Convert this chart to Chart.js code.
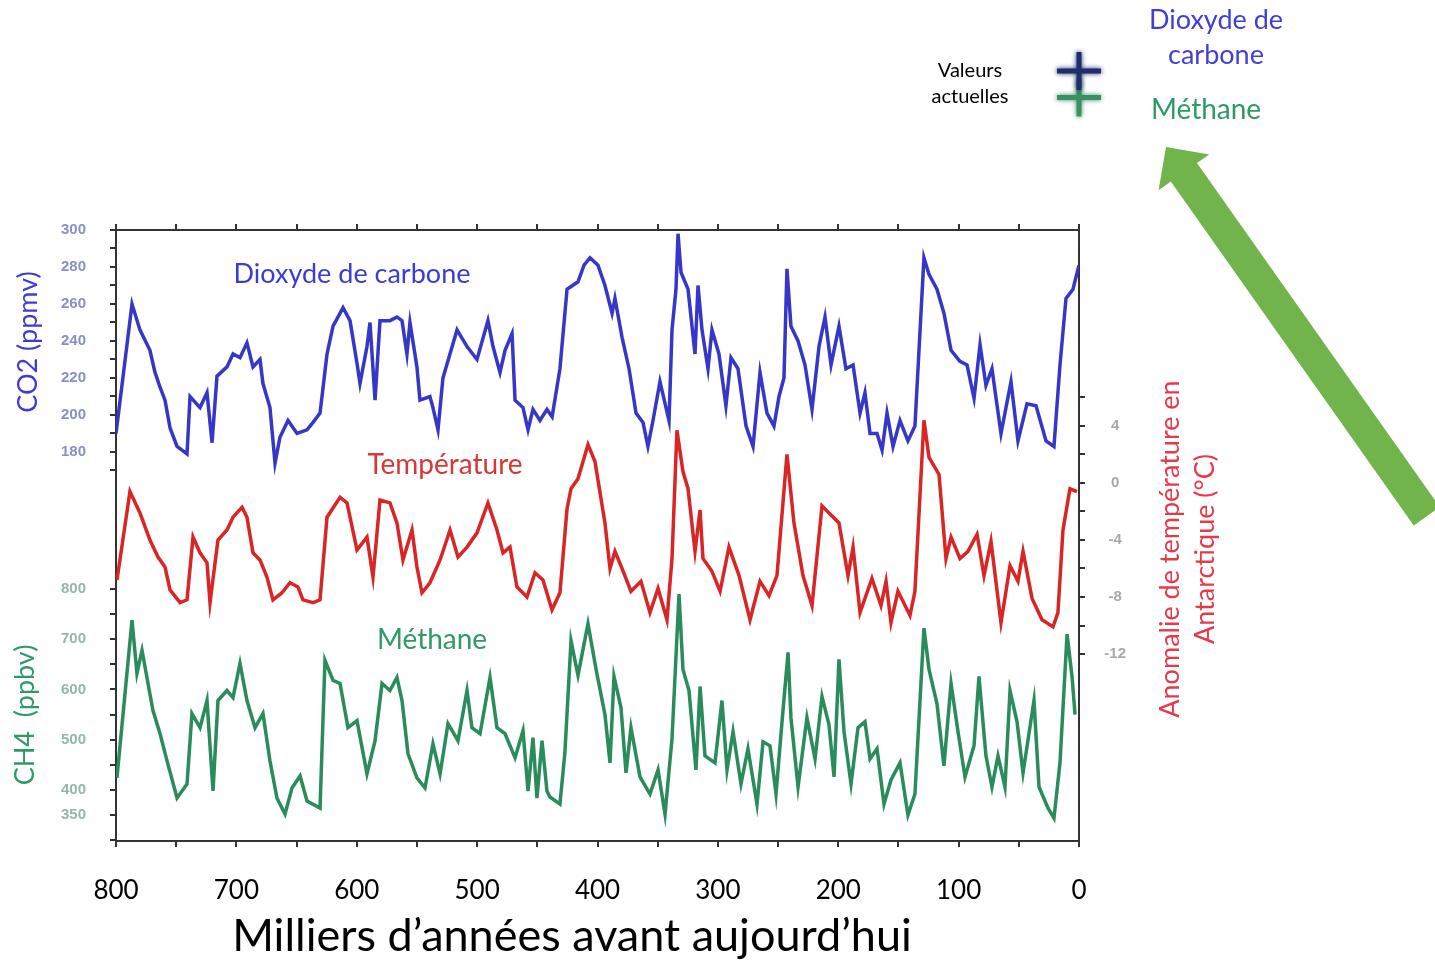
<!DOCTYPE html>
<html>
<head>
<meta charset="utf-8">
<title>CO2, température et méthane</title>
<script src="https://cdn.jsdelivr.net/npm/chart.js"></script>
<style>
  body { margin: 0; background: #fff; }
  #wrap { position: relative; width: 1435px; height: 961px; }
</style>
</head>
<body>
<div id="wrap"><canvas id="carotte"></canvas></div>
<script>
// ages in thousands of years before present
var co2Age = [800,786.7,780.1,771.8,767.6,763.4,759.3,755.1,749.3,741.0,
  738.5,730.2,724.4,720.2,716.1,707.8,702.8,697.0,691.2,686.2,
  680.4,677.9,672.1,667.9,663.8,657.1,649.6,641.3,636.3,630.5,
  624.7,619.7,611.4,605.6,599.8,597.3,591.5,589.0,584.8,580.7,
  572.4,566.6,562.4,558.3,555.8,550.0,547.5,539.2,536.7,532.5,
  528.4,516.7,508.4,500.1,491.0,486.8,481.0,476.8,471.0,468.5,
  461.9,457.7,453.6,447.8,442.0,437.7,431.2,425.3,416.2,411.2,
  406.2,399.6,393.8,387.9,385.5,379.6,373.8,368.0,362.2,358.1,
  353.9,348.1,340.6,338.1,334.8,333.1,330.6,324.8,319.0,316.5,
  313.2,308.2,304.9,299.1,293.3,289.1,283.3,276.6,270.8,265.0,
  259.2,253.4,249.2,245.1,242.6,239.3,233.4,227.6,221.8,216.0,
  211.0,206.0,199.4,193.6,187.7,181.9,177.8,173.6,167.8,163.6,
  159.5,154.5,148.7,142.1,136.3,128.8,124.6,118.0,112.2,106.3,
  98.9,93.0,87.2,82.2,77.3,72.3,64.8,56.5,50.7,43.2,
  35.7,27.4,20.8,15.8,10.8,5.0,0];
var co2Val = [190,260,246,235,223,215,208,193,183,179,
  210,204,212,185,221,226,233,231,239,226,
  230,217,204,174,188,197,190,192,196,201,
  233,248,258,251,228,217,237,250,208,251,
  251,253,251,233,250,226,208,210,204,192,
  220,246,237,230,251,237,223,235,244,208,
  204,192,203,197,203,199,225,268,272,281,
  285,281,270,255,263,242,225,201,196,183,
  197,218,197,246,268,298,277,268,233,270,
  246,225,246,233,205,231,225,194,183,223,
  201,194,210,220,279,248,240,227,203,237,
  253,227,248,225,227,201,212,190,190,181,
  201,183,197,186,194,285,276,268,255,235,
  229,227,209,238,216,225,190,218,186,206,
  205,186,183,227,263,268,281];

var tempAge = [799.2,788.4,780.1,771.8,765.1,759.3,755.1,746.8,741.0,736.0,
  730.2,724.4,721.9,715.3,707.8,702.8,695.3,691.2,686.2,680.4,
  674.6,669.6,662.1,655.5,648.8,644.7,636.3,630.5,624.7,613.9,
  608.1,599.8,591.5,586.5,580.7,572.4,566.6,561.6,554.1,550.0,
  545.8,539.2,530.8,522.5,515.9,508.4,500.1,491.0,483.5,478.5,
  472.7,466.9,458.6,451.9,445.3,437.8,431.2,425.3,422.0,416.2,
  407.9,402.1,393.8,389.6,385.5,379.6,372.2,363.9,356.4,349.7,
  342.3,338.1,334.0,329.0,324.8,319.0,314.8,312.4,304.9,298.2,
  290.8,282.4,273.3,265.0,257.5,250.9,242.6,236.8,229.3,221.8,
  213.5,207.7,199.4,191.9,187.7,181.9,172.0,164.5,160.3,156.2,
  150.4,140.4,136.3,128.8,124.6,116.3,110.5,106.3,98.9,92.2,
  84.7,78.9,73.1,64.8,57.3,50.7,46.5,39.0,30.7,21.6,
  17.5,13.3,7.5,1.7];
var tempVal = [-6.8,-0.6,-2.1,-4.0,-5.2,-5.9,-7.5,-8.4,-8.2,-3.8,
  -4.9,-5.6,-8.4,-4.0,-3.3,-2.4,-1.7,-2.4,-4.9,-5.4,
  -6.6,-8.2,-7.7,-7.0,-7.3,-8.2,-8.4,-8.2,-2.4,-1.0,
  -1.4,-4.7,-3.8,-6.6,-1.2,-1.4,-2.8,-5.4,-3.3,-5.9,
  -7.7,-7.0,-5.4,-3.3,-5.2,-4.5,-3.5,-1.4,-3.3,-4.9,
  -4.5,-7.3,-8.0,-6.3,-6.8,-8.9,-7.7,-1.8,-0.4,0.3,
  2.7,1.5,-2.8,-6.0,-4.8,-6.0,-7.6,-6.9,-9.1,-7.4,
  -9.6,-5.3,3.7,0.8,-0.4,-4.8,-1.9,-5.3,-6.2,-7.6,
  -4.5,-6.5,-9.6,-6.9,-7.9,-6.5,2.0,-2.8,-6.5,-8.6,
  -1.6,-2.1,-2.8,-6.5,-4.5,-9.1,-6.7,-8.6,-6.9,-9.8,
  -7.6,-9.3,-7.6,4.4,1.8,0.6,-5.3,-3.8,-5.3,-4.8,
  -3.6,-6.5,-4.1,-9.8,-5.8,-6.9,-4.8,-8.1,-9.6,-10.1,
  -9.1,-3.3,-0.4,-0.6];

var ch4Age = [799.2,786.7,782.6,778.4,773.4,769.3,763.4,757.6,749.3,741.0,
  736.9,730.2,724.4,719.4,715.3,707.8,702.8,697.0,691.2,684.5,
  677.9,672.1,666.3,659.6,653.8,647.1,641.3,630.5,626.4,619.7,
  613.9,607.3,599.8,591.5,584.8,579.0,572.4,566.6,562.4,557.4,
  550.0,543.3,536.7,530.8,524.2,515.9,508.4,504.3,497.6,489.3,
  483.5,476.8,468.5,461.9,457.7,453.6,450.3,446.1,442.0,439.5,
  431.2,427.1,422.0,416.2,407.9,401.2,393.8,389.6,386.3,380.5,
  376.3,372.2,364.7,356.4,349.7,343.9,338.1,332.3,329.0,324.0,
  318.2,314.8,310.7,302.4,296.6,292.4,287.4,280.8,275.0,267.5,
  262.5,256.7,251.7,246.7,241.7,239.3,233.4,226.0,219.3,213.5,
  207.7,203.5,199.4,195.2,189.4,183.6,177.8,173.6,167.8,162.0,
  156.2,148.7,142.1,136.3,128.8,124.6,118.0,112.2,106.3,100.5,
  94.7,87.2,83.1,77.3,72.3,67.3,61.5,57.3,51.5,46.5,
  37.4,33.2,25.7,20.8,15.8,9.9,5.8,3.3];
var ch4Val = [424,738,632,678,612,558,512,458,384,412,
  552,524,578,398,578,598,584,652,578,524,
  552,458,384,352,404,428,378,364,658,618,
  612,524,538,432,498,612,598,624,578,472,
  424,404,492,432,532,498,598,524,512,624,
  524,512,464,518,398,504,384,498,398,386,
  372,474,697,628,731,640,550,454,626,564,
  434,524,426,392,440,352,502,790,640,598,
  440,606,468,454,578,440,516,412,482,372,
  496,488,392,536,674,544,406,544,462,586,
  530,426,660,516,412,524,536,462,482,372,
  420,454,350,392,722,640,572,448,612,516,
  426,488,626,468,406,468,406,598,536,434,
  578,406,364,344,454,710,626,550];

// present-day values (crosses at the top right)
var nowAge = 0;
var nowCO2 = 386;
var nowCH4 = 1778;

// tick marks and labels
var ageTicks = [0,50,100,150,200,250,300,350,400,450,500,550,600,650,700,750,800];
var co2Ticks = [170,180,190,200,210,220,230,240,250,260,270,280,290,300];
var co2Labels = [180,200,220,240,260,280,300];
var ch4Ticks = [300,350,400,450,500,550,600,650,700,750,800];
var ch4Labels = [350,400,500,600,700,800];
var tempTicks = [-12,-10,-8,-6,-4,-2,0,2,4,6];
var tempLabels = [4,0,-4,-8,-12];

function pts(ages, vals) {
  return ages.map(function (a, i) { return {x: a, y: vals[i]}; });
}
function setTicks(list) {
  return function (scale) {
    scale.ticks = list.map(function (v) { return {value: v}; });
  };
}
function only(list) {
  return function (v) { return list.indexOf(v) >= 0 ? String(v) : ''; };
}
var frame = {drawOnChartArea: false, drawTicks: true, tickLength: 6, tickColor: '#333', tickWidth: 2, color: '#333', lineWidth: 2};
var smallFont = {family: 'Liberation Sans', size: 15, weight: 'bold'};

var decor = {
  id: 'decor',
  afterDraw: function (chart) {
    var ctx = chart.ctx;
    ctx.save();

    // green arrow
    var tip = [1166, 147], d = [0.577, 0.817], p = [0.817, -0.577];
    function at(a, b) { return [tip[0] + a * d[0] + b * p[0], tip[1] + a * d[1] + b * p[1]]; }
    var poly = [at(0, 0), at(31, 31), at(31, 16), at(452, 16), at(452, -16), at(31, -16), at(31, -31)];
    ctx.fillStyle = '#70b44b';
    ctx.beginPath();
    poly.forEach(function (q, i) { if (i) ctx.lineTo(q[0], q[1]); else ctx.moveTo(q[0], q[1]); });
    ctx.closePath();
    ctx.fill();

    // present-day values, placed with the chart scales
    var xs = chart.scales.x;
    function cross(x, y, col) {
      ctx.strokeStyle = col;
      ctx.lineWidth = 5;
      ctx.shadowColor = col;
      ctx.shadowBlur = 5;
      ctx.beginPath();
      ctx.moveTo(x - 22, y); ctx.lineTo(x + 22, y);
      ctx.moveTo(x, y - 19); ctx.lineTo(x, y + 19);
      ctx.stroke();
      ctx.shadowBlur = 0;
    }
    cross(xs.getPixelForValue(nowAge), chart.scales.yCH4.getPixelForValue(nowCH4), '#3b8f62');
    cross(xs.getPixelForValue(nowAge), chart.scales.yCO2.getPixelForValue(nowCO2), '#1f2d6b');

    ctx.textAlign = 'center';
    ctx.textBaseline = 'middle';
    function txt(s, x, y, col, size, rot) {
      ctx.save();
      ctx.translate(x, y);
      if (rot) ctx.rotate(rot);
      ctx.fillStyle = col;
      ctx.font = size + 'px Lato';
      ctx.fillText(s, 0, 0);
      ctx.restore();
    }
    var blue = '#3c3cd4', red = '#d93636', green = '#2e9a66', pink = '#e8394a';
    var up = -Math.PI / 2;
    txt('Dioxyde de carbone', 352, 274, blue, 27);
    txt('Température', 445, 465, red, 28);
    txt('Méthane', 432, 640, green, 28);
    txt('Milliers d’années avant aujourd’hui', 572, 936, '#000', 45);
    txt('Valeurs', 970, 71, '#000', 20);
    txt('actuelles', 970, 97, '#000', 20);
    txt('Dioxyde de', 1216, 20, '#4040d6', 27);
    txt('carbone', 1216, 55, '#4040d6', 27);
    txt('Méthane', 1206, 110, green, 28);
    txt('CO2 (ppmv)', 28, 342, blue, 27, up);
    txt('CH4  (ppbv)', 25, 715, green, 27, up);
    txt('Anomalie de température en', 1170, 549, pink, 27, up);
    txt('Antarctique (°C)', 1205, 549, pink, 27, up);
    ctx.restore();
  }
};

var ctx = document.getElementById('carotte').getContext('2d');
var chart = new Chart(ctx, {
  type: 'line',
  data: {
    datasets: [{
      label: 'Dioxyde de carbone',
      data: pts(co2Age, co2Val),
      yAxisID: 'yCO2',
      borderColor: '#3636c8',
      borderWidth: 3.5,
      pointRadius: 0
    }, {
      label: 'Température',
      data: pts(tempAge, tempVal),
      yAxisID: 'yT',
      borderColor: '#d92525',
      borderWidth: 3.5,
      pointRadius: 0
    }, {
      label: 'Méthane',
      data: pts(ch4Age, ch4Val),
      yAxisID: 'yCH4',
      borderColor: '#2a8c5c',
      borderWidth: 3.5,
      pointRadius: 0
    }]
  },
  options: {
    responsive: true,
    maintainAspectRatio: false,
    animation: false,
    events: [],
    layout: {padding: {left: 116, right: 356, top: 230, bottom: 0}},
    plugins: {legend: {display: false}, tooltip: {enabled: false}},
    scales: {
      x: {
        type: 'linear', position: 'bottom', reverse: true, min: 0, max: 800,
        afterBuildTicks: setTicks(ageTicks),
        afterFit: function (s) { s.height = 120; },
        ticks: {
          callback: function (v) { return v % 100 === 0 ? String(v) : ''; },
          autoSkip: false, maxRotation: 0, padding: 28,
          color: '#000', font: {family: 'Lato', size: 26}
        },
        grid: frame,
        border: {display: true, color: '#333', width: 2}
      },
      xTop: {
        type: 'linear', position: 'top', reverse: true, min: 0, max: 800,
        afterBuildTicks: setTicks(ageTicks),
        afterFit: function (s) { s.height = 0; },
        ticks: {display: false},
        grid: frame,
        border: {display: true, color: '#333', width: 2}
      },
      // the y axes have no width; mirrored labels with shifted padding sit outside the frame
      yCO2: {
        type: 'linear', position: 'left', min: -30.3, max: 300,
        afterBuildTicks: setTicks(co2Ticks),
        afterFit: function (s) { s.width = 0; },
        ticks: {
          callback: only(co2Labels), autoSkip: false, mirror: true, crossAlign: 'near', padding: -55,
          color: '#8a8fc4', font: smallFont
        },
        grid: frame,
        border: {display: true, color: '#333', width: 2}
      },
      yCH4: {
        type: 'linear', position: 'left', min: 298.5, max: 1514.4,
        afterBuildTicks: setTicks(ch4Ticks),
        afterFit: function (s) { s.width = 0; },
        ticks: {
          callback: only(ch4Labels), autoSkip: false, mirror: true, crossAlign: 'near', padding: -55,
          color: '#93b8a8', font: smallFont
        },
        grid: frame,
        border: {display: false}
      },
      yT: {
        type: 'linear', position: 'right', min: -25.12, max: 17.75,
        afterBuildTicks: setTicks(tempTicks),
        afterFit: function (s) { s.width = 0; },
        ticks: {
          callback: only(tempLabels), autoSkip: false, mirror: true, crossAlign: 'center', padding: 47,
          color: '#a8a8a8', font: smallFont
        },
        grid: frame,
        border: {display: true, color: '#333', width: 2}
      }
    }
  },
  plugins: [decor]
});
</script>
</body>
</html>
